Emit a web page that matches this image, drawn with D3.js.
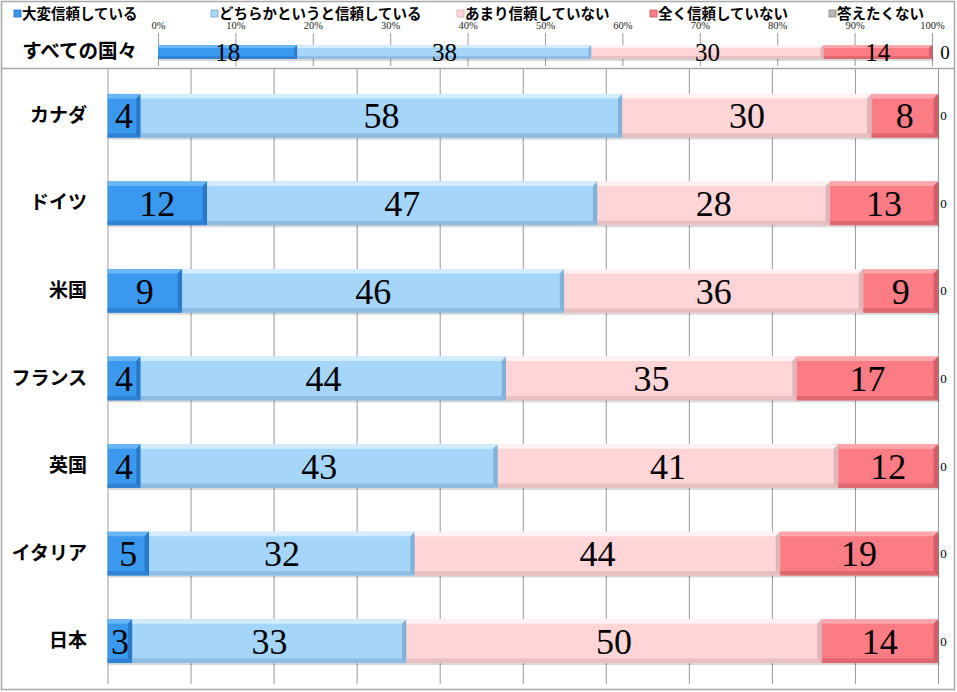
<!DOCTYPE html>
<html><head><meta charset="utf-8">
<script src="https://cdn.jsdelivr.net/npm/d3@7"></script>
<style>
html,body{margin:0;padding:0;background:#fff;}
svg{display:block;}
</style></head>
<body>
<svg id="chart" width="957" height="692"></svg>
<script>
const seriesNames = ["大変信頼している","どちらかというと信頼している","あまり信頼していない","全く信頼していない","答えたくない"];
const summaryCategory = ["すべての国々"];
const summaryValues = [18, 38, 30, 14, 0];
const categories = ["カナダ","ドイツ","米国","フランス","英国","イタリア","日本"];
const veryTrust   = [4, 12, 9, 4, 4, 5, 3];
const someTrust   = [58, 47, 46, 44, 43, 32, 33];
const littleTrust = [30, 28, 36, 35, 41, 44, 50];
const noTrust     = [8, 13, 9, 17, 12, 19, 14];
const noAnswer    = [0, 0, 0, 0, 0, 0, 0];
const tickValues = [0,10,20,30,40,50,60,70,80,90,100];
const tickLabels = ["0%","10%","20%","30%","40%","50%","60%","70%","80%","90%","100%"];

const palette = [
  {base:"#3a98ee", light:"#68b6f6", dark:"#2472bf"},
  {base:"#a6d5fa", light:"#d2ecfe", dark:"#7aa9d0"},
  {base:"#ffd5d8", light:"#fff2f3", dark:"#d6aeb1"},
  {base:"#fb7c85", light:"#fda7ad", dark:"#c9565f"},
  {base:"#b4b4b4", light:"#d6d6d6", dark:"#8a8a8a"}
];

const svg = d3.select("#chart");
const W = 957, H = 692;
const serif = "'Liberation Serif','Times New Roman',serif";
const gothic = "'Noto Sans CJK JP','Noto Sans',sans-serif";

// outer frame
svg.append("rect").attr("x",1.5).attr("y",1.5).attr("width",W-4).attr("height",H-4)
  .attr("fill","#fff").attr("stroke","#a8a8a8").attr("stroke-width",1.5);
svg.append("line").attr("x1",1.5).attr("x2",W-2.5).attr("y1",68.5).attr("y2",68.5)
  .attr("stroke","#a8a8a8").attr("stroke-width",1.5);

// stacking
const rows = categories.map((c,i)=>({cat:c, vals:[veryTrust[i],someTrust[i],littleTrust[i],noTrust[i],noAnswer[i]]}));
const summaryRow = {cat:summaryCategory[0], vals:summaryValues};
function stack(row){
  let acc=0;
  return row.vals.map((v,k)=>{const s={k, v, x0:acc, x1:acc+v, cat:row.cat}; acc+=v; return s;});
}

function bevelBar(g, x0, x1, y0, y1, col, b){
  const w = x1-x0;
  if (w<=0) return;
  b = Math.min(b, w/2, (y1-y0)/2);
  g.append("rect").attr("x",x0+1.5).attr("y",y0+2).attr("width",w).attr("height",y1-y0)
    .attr("fill","#000").attr("opacity",0.15);
  g.append("rect").attr("x",x0).attr("y",y0).attr("width",w).attr("height",y1-y0).attr("fill",col.base);
  g.append("polygon").attr("points",[[x0,y0],[x1,y0],[x1-b,y0+b],[x0,y0+b]].join(" ")).attr("fill",col.light);
  g.append("polygon").attr("points",[[x0,y1],[x1,y1],[x1-b,y1-b],[x0,y1-b]].join(" ")).attr("fill",col.dark).attr("opacity",0.55);
  g.append("polygon").attr("points",[[x1,y0],[x1,y1],[x1-b,y1-b],[x1-b,y0+b]].join(" ")).attr("fill",col.dark).attr("opacity",0.8);
}

// ---------- summary panel ----------
const xTop = d3.scaleLinear().domain([0,100]).range([158,932]);
const yTop = d3.scaleBand().domain(summaryCategory).range([45,59]).padding(0);

const topAxis = d3.axisTop(xTop).tickValues(tickValues)
  .tickFormat((d,i)=>tickLabels[i]).tickSizeInner(-33).tickSizeOuter(0).tickPadding(4);
const gTopAxis = svg.append("g").attr("transform","translate(0,33)").call(topAxis);
gTopAxis.select(".domain").remove();
gTopAxis.selectAll(".tick line").attr("stroke","#9a9a9a");
gTopAxis.selectAll(".tick text").attr("font-family",serif).attr("font-size",10.5).attr("fill","#222");

const topCatAxis = d3.axisLeft(yTop).tickSize(0).tickPadding(21);
const gTopCat = svg.append("g").attr("transform",`translate(${xTop(0)},0)`).call(topCatAxis);
gTopCat.select(".domain").remove();
gTopCat.selectAll("text").attr("font-family",gothic).attr("font-weight","bold").attr("font-size",19.5).attr("fill","#000");

const gTop = svg.append("g");
stack(summaryRow).forEach(s=>{
  bevelBar(gTop, xTop(s.x0), xTop(s.x1), yTop(s.cat), yTop(s.cat)+yTop.bandwidth(), palette[s.k], 3);
});
stack(summaryRow).forEach(s=>{
  const cx = s.v>0 ? (xTop(s.x0)+xTop(s.x1))/2 : xTop(100)+13;
  gTop.append("text").attr("x",cx).attr("y",yTop(s.cat)+yTop.bandwidth()/2)
    .attr("text-anchor","middle").attr("dy","0.35em")
    .attr("font-family",serif).attr("font-size", s.v>0?25:19).attr("fill","#000").text(s.v);
});

// ---------- main panel ----------
const x = d3.scaleLinear().domain([0,100]).range([107.5,938]);
const y = d3.scaleBand().domain(categories).range([72,685]).paddingInner(0.5).paddingOuter(0.25);

const grid = d3.axisBottom(x).tickValues(tickValues).tickFormat("").tickSizeInner(-(685-70)).tickSizeOuter(0);
const gGrid = svg.append("g").attr("transform","translate(0,684)").call(grid);
gGrid.select(".domain").remove();
gGrid.selectAll(".tick line").attr("stroke","#9a9a9a");

const catAxis = d3.axisLeft(y).tickSize(0).tickPadding(20.5);
const gCat = svg.append("g").attr("transform",`translate(${x(0)},0)`).call(catAxis);
gCat.select(".domain").remove();
gCat.selectAll("text").attr("font-family",gothic).attr("font-weight","bold").attr("font-size",19).attr("fill","#000");

const gBars = svg.append("g");
rows.forEach(r=>{
  stack(r).forEach(s=>{
    bevelBar(gBars, x(s.x0), x(s.x1), y(s.cat), y(s.cat)+y.bandwidth(), palette[s.k], 4.5);
  });
});
rows.forEach(r=>{
  stack(r).forEach(s=>{
    const cx = s.v>0 ? (x(s.x0)+x(s.x1))/2 : x(100)+5.5;
    gBars.append("text").attr("x",cx).attr("y",y(s.cat)+y.bandwidth()/2)
      .attr("text-anchor","middle").attr("dy","0.35em")
      .attr("font-family",serif).attr("font-size", s.v>0?36:13).attr("fill","#000").text(s.v);
  });
});

// ---------- legend ----------
const legendX = [14, 211, 457, 650, 829];
const gLeg = svg.append("g");
seriesNames.forEach((n,i)=>{
  const g = gLeg.append("g").attr("transform",`translate(${legendX[i]},0)`);
  g.append("rect").attr("x",0).attr("y",10).attr("width",7).attr("height",7)
    .attr("fill",palette[i].base).attr("stroke",palette[i].dark).attr("stroke-width",0.8);
  g.append("text").attr("x",8).attr("y",14).attr("dy","0.35em")
    .attr("font-family",gothic).attr("font-weight","bold").attr("font-size",14.5).attr("fill","#000").text(n);
});
</script>
</body></html>
